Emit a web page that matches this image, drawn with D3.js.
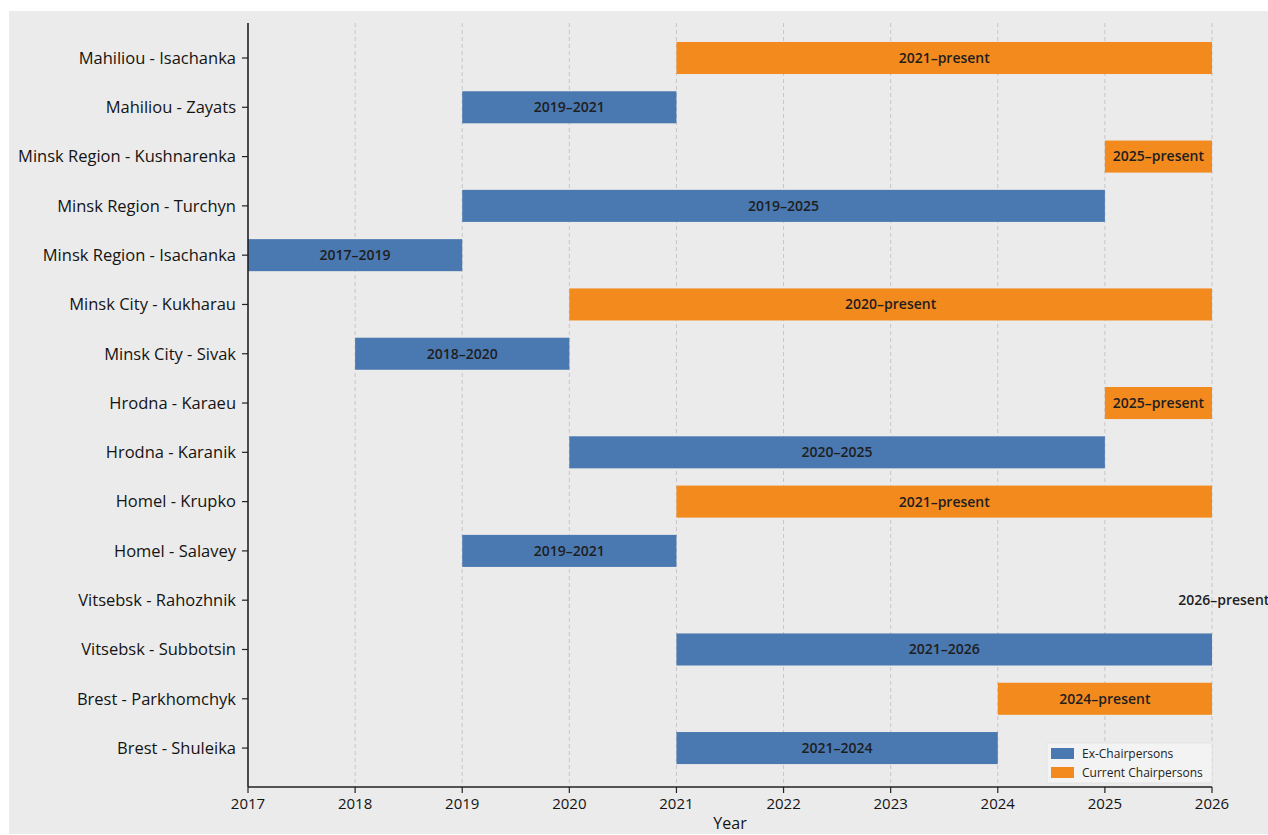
<!DOCTYPE html>
<html>
<head>
<meta charset="utf-8">
<script src="https://cdn.jsdelivr.net/npm/d3@7"></script>
<style>
html,body{margin:0;padding:0;background:#fff;}
svg{display:block;font-family:"Open Sans","Noto Sans",sans-serif;}
</style>
</head>
<body>
<svg id="chart" width="1268" height="835"></svg>
<script>
const names = ["Mahiliou - Isachanka","Mahiliou - Zayats","Minsk Region - Kushnarenka","Minsk Region - Turchyn","Minsk Region - Isachanka","Minsk City - Kukharau","Minsk City - Sivak","Hrodna - Karaeu","Hrodna - Karanik","Homel - Krupko","Homel - Salavey","Vitsebsk - Rahozhnik","Vitsebsk - Subbotsin","Brest - Parkhomchyk","Brest - Shuleika"];
const starts = [2021,2019,2025,2019,2017,2020,2018,2025,2020,2021,2019,2026,2021,2024,2021];
const ends   = [2026,2021,2026,2025,2019,2026,2020,2026,2025,2026,2021,2026.22,2026,2026,2024];
const current = [true,false,true,false,false,true,false,true,false,true,false,true,false,true,false];
const barLabels = ["2021–present","2019–2021","2025–present","2019–2025","2017–2019","2020–present","2018–2020","2025–present","2020–2025","2021–present","2019–2021","2026–present","2021–2026","2024–present","2021–2024"];
const xTicks = [2017,2018,2019,2020,2021,2022,2023,2024,2025,2026];
const legendLabels = ["Ex-Chairpersons","Current Chairpersons"];
const colors = {ex:"#4a78b0", cur:"#f28a1e"};

const svg = d3.select("#chart");
svg.append("rect").attr("x",9).attr("y",11).attr("width",1259).attr("height",823).attr("fill","#ebebeb");

const mL=248, mR=1212, mT=23, mB=787;
const x = d3.scaleLinear().domain([2017,2026]).range([mL,mR]);
const y = d3.scaleLinear().domain([-0.71,14.79]).range([mT,mB]);
const barH = 0.65;

// grid
svg.append("g").selectAll("line").data(xTicks.slice(1)).join("line")
  .attr("x1",d=>x(d)).attr("x2",d=>x(d)).attr("y1",mT).attr("y2",mB)
  .attr("stroke","#c6c6c6").attr("stroke-width",1).attr("stroke-dasharray","4,3");

const idx = d3.range(names.length);
// bars
svg.append("g").selectAll("rect").data(idx).join("rect")
  .attr("x",i=>x(starts[i]))
  .attr("width",i=>Math.max(0, x(Math.min(ends[i],2026))-x(starts[i])))
  .attr("y",i=>y(i-barH/2))
  .attr("height",i=>y(barH)-y(0))
  .attr("fill",i=>current[i]?colors.cur:colors.ex);

svg.append("g").selectAll("text").data(idx).join("text")
  .attr("x",i=>x((starts[i]+ends[i])/2))
  .attr("y",i=>y(i))
  .attr("dy","0.35em")
  .attr("text-anchor","middle")
  .attr("font-size",14).attr("font-weight",600)
  .attr("fill","#1e1e1e")
  .text(i=>barLabels[i]);

// axes
const yAxis = svg.append("g").attr("transform",`translate(${mL},0)`);
yAxis.append("line").attr("x1",0).attr("x2",0).attr("y1",mT).attr("y2",mB).attr("stroke","#222").attr("stroke-width",1.6);
const yt = yAxis.selectAll("g.t").data(idx).join("g").attr("transform",i=>`translate(0,${y(i)})`);
yt.append("line").attr("x1",-6).attr("x2",0).attr("stroke","#222").attr("stroke-width",1.2);
yt.append("text").attr("x",-12).attr("dy","0.35em").attr("text-anchor","end")
  .attr("font-size",16.5).attr("fill","#141414").text(i=>names[i]);

const xAxis = svg.append("g").attr("transform",`translate(0,${mB})`);
xAxis.append("line").attr("x1",mL).attr("x2",mR).attr("stroke","#222").attr("stroke-width",1.6);
const xt = xAxis.selectAll("g.t").data(xTicks).join("g").attr("transform",d=>`translate(${x(d)},0)`);
xt.append("line").attr("y1",0).attr("y2",6).attr("stroke","#222").attr("stroke-width",1.2);
xt.append("text").attr("y",22).attr("text-anchor","middle").attr("font-size",15).attr("fill","#141414").text(d=>d);

svg.append("text").attr("x",(mL+mR)/2).attr("y",829).attr("text-anchor","middle")
  .attr("font-size",16).attr("fill","#141414").text("Year");

// legend
const lg = svg.append("g").attr("transform","translate(1047,743)");
lg.append("rect").attr("width",165).attr("height",40).attr("fill","#f3f3f3").attr("stroke","#e0e0e0").attr("stroke-width",0.8);
const li = lg.selectAll("g.i").data(legendLabels).join("g").attr("transform",(d,i)=>`translate(4,${5+i*19})`);
li.append("rect").attr("width",23).attr("height",11).attr("fill",(d,i)=>i?colors.cur:colors.ex);
li.append("text").attr("x",31).attr("y",6).attr("dy","0.35em").attr("font-size",12).attr("fill","#222").text(d=>d);
</script>
</body>
</html>
